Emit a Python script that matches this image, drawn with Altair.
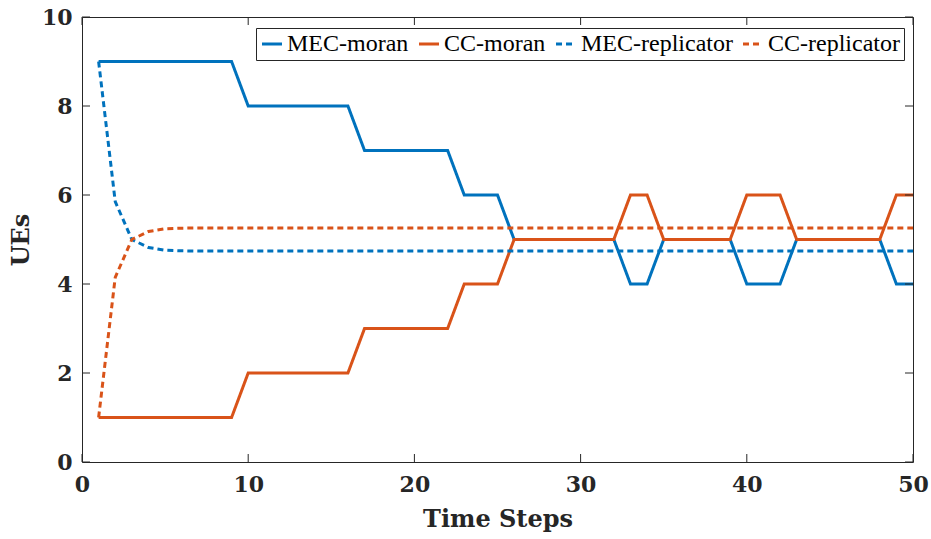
import altair as alt
import pandas as pd

# Time axis and the four population trajectories
time_steps = list(range(1, 51))

mec_moran = [9, 9, 9, 9, 9, 9, 9, 9, 9,
             8, 8, 8, 8, 8, 8, 8,
             7, 7, 7, 7, 7, 7,
             6, 6, 6,
             5, 5, 5, 5, 5, 5, 5,
             4, 4,
             5, 5, 5, 5, 5,
             4, 4, 4,
             5, 5, 5, 5, 5, 5,
             4, 4]

cc_moran = [1, 1, 1, 1, 1, 1, 1, 1, 1,
            2, 2, 2, 2, 2, 2, 2,
            3, 3, 3, 3, 3, 3,
            4, 4, 4,
            5, 5, 5, 5, 5, 5, 5,
            6, 6,
            5, 5, 5, 5, 5,
            6, 6, 6,
            5, 5, 5, 5, 5, 5,
            6, 6]

mec_replicator = [9.0, 5.85, 5.0, 4.82, 4.76, 4.745] + [4.74] * 44
cc_replicator = [1.0, 4.15, 5.0, 5.18, 5.24, 5.255] + [5.26] * 44

series_names = ["MEC-moran", "CC-moran", "MEC-replicator", "CC-replicator"]
series_colors = ["#0072BD", "#D95319", "#0072BD", "#D95319"]
series_dash = [[1, 0], [1, 0], [6, 4], [6, 4]]
series_width = [3, 3, 1.2, 1.2]

x_ticks = [0, 10, 20, 30, 40, 50]
y_ticks = [0, 2, 4, 6, 8, 10]

frames = []
for name, values in zip(series_names, [mec_moran, cc_moran, mec_replicator, cc_replicator]):
    frames.append(pd.DataFrame({"t": time_steps, "value": values, "series": name}))
df = pd.concat(frames, ignore_index=True)

W, H = 831, 445
AXIS_FONT = "DejaVu Serif"
LEGEND_FONT = "Liberation Serif"
INK = "#262626"
TICK = 8

x_scale = alt.Scale(domain=[0, 50], nice=False, zero=False)
y_scale = alt.Scale(domain=[0, 10], nice=False, zero=False)

series_legend = alt.Legend(
    orient="none", legendX=174, legendY=11, direction="horizontal", columns=4,
    labelFont=LEGEND_FONT, labelFontSize=24, labelFontWeight="normal", labelColor="black",
    symbolType="stroke", symbolSize=400, labelOffset=3, columnPadding=4,
    strokeColor=INK, fillColor="white", padding=4, cornerRadius=0, labelLimit=300,
)

lines = alt.Chart(df).mark_line(strokeJoin="miter", clip=True).encode(
    x=alt.X("t:Q", scale=x_scale,
            axis=alt.Axis(values=x_ticks, title="Time Steps", tickSize=0, domain=False,
                          grid=False, labelPadding=12, titlePadding=12, format="d",
                          labelFlush=False)),
    y=alt.Y("value:Q", scale=y_scale,
            axis=alt.Axis(values=y_ticks, title="UEs", tickSize=0, domain=False,
                          grid=False, labelPadding=10, titlePadding=8, format="d",
                          labelFlush=False)),
    color=alt.Color("series:N", scale=alt.Scale(domain=series_names, range=series_colors),
                    title=None, sort=series_names, legend=series_legend),
    strokeDash=alt.StrokeDash("series:N", scale=alt.Scale(domain=series_names, range=series_dash),
                              title=None, sort=series_names, legend=series_legend),
    strokeWidth=alt.StrokeWidth("series:N", scale=alt.Scale(domain=series_names, range=series_width),
                                title=None, sort=series_names, legend=series_legend),
    detail="series:N",
)

xt = pd.DataFrame({"t": x_ticks})
yt = pd.DataFrame({"v": y_ticks})

# Inward tick marks on all four sides of the box
x_ticks_bottom = alt.Chart(xt).mark_rule(color=INK, strokeWidth=1).encode(
    x=alt.X("t:Q", scale=x_scale), y=alt.value(H), y2=alt.value(H - TICK))
x_ticks_top = alt.Chart(xt).mark_rule(color=INK, strokeWidth=1).encode(
    x=alt.X("t:Q", scale=x_scale), y=alt.value(0), y2=alt.value(TICK))
y_ticks_left = alt.Chart(yt).mark_rule(color=INK, strokeWidth=1).encode(
    y=alt.Y("v:Q", scale=y_scale), x=alt.value(0), x2=alt.value(TICK))
y_ticks_right = alt.Chart(yt).mark_rule(color=INK, strokeWidth=1).encode(
    y=alt.Y("v:Q", scale=y_scale), x=alt.value(W), x2=alt.value(W - TICK))

chart = alt.layer(lines, x_ticks_bottom, x_ticks_top, y_ticks_left, y_ticks_right).properties(
    width=W, height=H,
    autosize=alt.AutoSizeParams(type="none"),
    padding={"left": 82, "top": 17, "right": 18, "bottom": 77},
    background="white",
).configure_view(
    stroke=INK, strokeWidth=1
).configure_axis(
    labelFont=AXIS_FONT, labelFontSize=22, labelFontWeight="bold", labelColor=INK,
    titleFont=AXIS_FONT, titleFontSize=24, titleFontWeight="bold", titleColor=INK,
)

chart.save("out.html", embed_options={"renderer": "svg", "actions": False})
